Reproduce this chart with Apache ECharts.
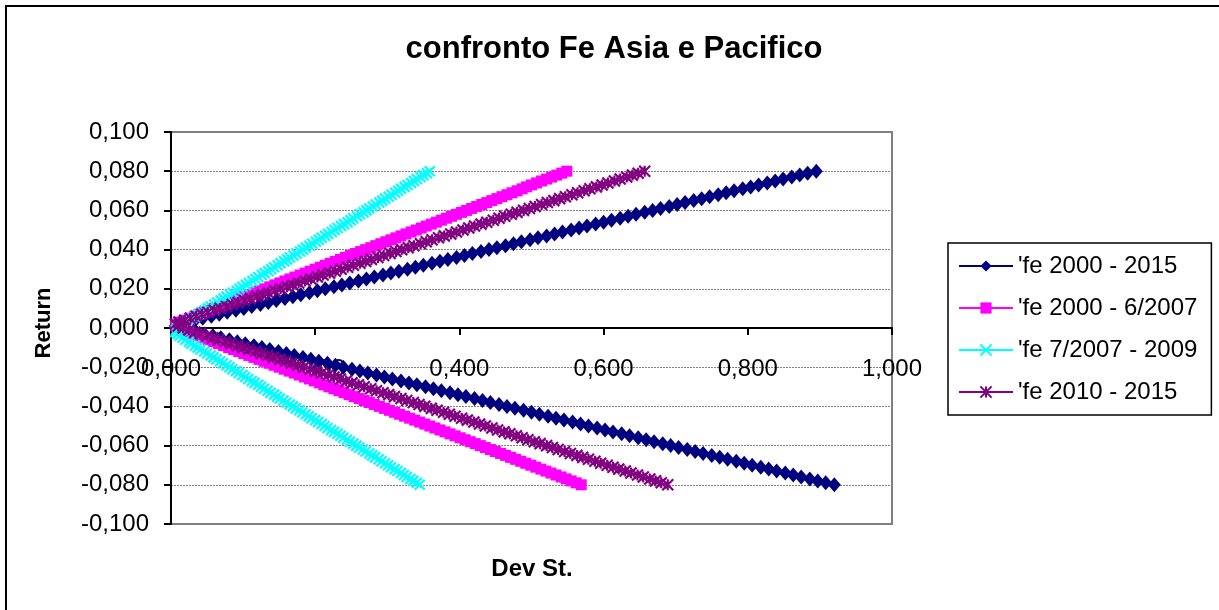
<!DOCTYPE html>
<html>
<head>
<meta charset="utf-8">
<script src="https://cdn.jsdelivr.net/npm/echarts@6/dist/echarts.min.js"></script>
<style>
html,body{margin:0;padding:0;background:#fff;}
#chart{width:1219px;height:610px;}
</style>
</head>
<body>
<div id="chart"></div>
<script>
// Return levels (y values), shared by all series
const returns = [
-0.080,-0.079,-0.078,-0.077,-0.076,-0.075,-0.074,-0.073,-0.072,-0.071,
-0.070,-0.069,-0.068,-0.067,-0.066,-0.065,-0.064,-0.063,-0.062,-0.061,
-0.060,-0.059,-0.058,-0.057,-0.056,-0.055,-0.054,-0.053,-0.052,-0.051,
-0.050,-0.049,-0.048,-0.047,-0.046,-0.045,-0.044,-0.043,-0.042,-0.041,
-0.040,-0.039,-0.038,-0.037,-0.036,-0.035,-0.034,-0.033,-0.032,-0.031,
-0.030,-0.029,-0.028,-0.027,-0.026,-0.025,-0.024,-0.023,-0.022,-0.021,
-0.020,-0.019,-0.018,-0.017,-0.016,-0.015,-0.014,-0.013,-0.012,-0.011,
-0.010,-0.009,-0.008,-0.007,-0.006,-0.005,-0.004,-0.003,-0.002,-0.001,
0.000,
0.001,0.002,0.003,0.004,0.005,0.006,0.007,0.008,0.009,0.010,
0.011,0.012,0.013,0.014,0.015,0.016,0.017,0.018,0.019,0.020,
0.021,0.022,0.023,0.024,0.025,0.026,0.027,0.028,0.029,0.030,
0.031,0.032,0.033,0.034,0.035,0.036,0.037,0.038,0.039,0.040,
0.041,0.042,0.043,0.044,0.045,0.046,0.047,0.048,0.049,0.050,
0.051,0.052,0.053,0.054,0.055,0.056,0.057,0.058,0.059,0.060,
0.061,0.062,0.063,0.064,0.065,0.066,0.067,0.068,0.069,0.070,
0.071,0.072,0.073,0.074,0.075,0.076,0.077,0.078,0.079,0.080
];

// Dev St. (x values) for each series, one per return level
const sdFe2000_2015 = [
0.920,0.908,0.897,0.886,0.874,0.863,0.852,0.840,0.829,0.818,
0.806,0.795,0.784,0.772,0.761,0.750,0.738,0.727,0.716,0.704,
0.693,0.682,0.670,0.659,0.648,0.636,0.625,0.613,0.602,0.591,
0.579,0.568,0.557,0.545,0.534,0.523,0.511,0.500,0.489,0.477,
0.466,0.455,0.443,0.432,0.421,0.409,0.398,0.387,0.375,0.364,
0.353,0.341,0.330,0.319,0.307,0.296,0.285,0.273,0.262,0.251,
0.239,0.228,0.217,0.205,0.194,0.183,0.171,0.160,0.149,0.137,
0.126,0.115,0.103,0.092,0.081,0.069,0.058,0.046,0.035,0.024,
0.014,
0.006,0.012,0.022,0.033,0.044,0.056,0.067,0.078,0.090,0.101,
0.112,0.124,0.135,0.146,0.158,0.169,0.180,0.192,0.203,0.214,
0.226,0.237,0.248,0.260,0.271,0.282,0.294,0.305,0.316,0.328,
0.339,0.350,0.362,0.373,0.384,0.396,0.407,0.418,0.430,0.441,
0.452,0.464,0.475,0.486,0.498,0.509,0.521,0.532,0.543,0.555,
0.566,0.577,0.589,0.600,0.611,0.623,0.634,0.645,0.657,0.668,
0.679,0.691,0.702,0.713,0.725,0.736,0.747,0.759,0.770,0.781,
0.793,0.804,0.815,0.827,0.838,0.849,0.861,0.872,0.883,0.895
];

const sdFe2000_2007 = [
0.569,0.562,0.555,0.548,0.541,0.534,0.527,0.520,0.513,0.506,
0.499,0.492,0.485,0.478,0.471,0.464,0.457,0.450,0.443,0.436,
0.429,0.422,0.415,0.408,0.401,0.394,0.387,0.380,0.373,0.366,
0.359,0.352,0.345,0.338,0.331,0.324,0.317,0.310,0.303,0.296,
0.289,0.282,0.275,0.268,0.261,0.254,0.247,0.240,0.233,0.226,
0.219,0.212,0.206,0.199,0.192,0.185,0.178,0.171,0.164,0.157,
0.150,0.143,0.136,0.129,0.122,0.115,0.108,0.101,0.094,0.087,
0.080,0.073,0.066,0.059,0.052,0.045,0.038,0.031,0.025,0.018,
0.011,
0.007,0.007,0.013,0.019,0.026,0.033,0.039,0.046,0.053,0.060,
0.067,0.074,0.081,0.088,0.095,0.102,0.109,0.116,0.123,0.130,
0.137,0.144,0.151,0.158,0.165,0.172,0.179,0.186,0.193,0.200,
0.207,0.214,0.221,0.228,0.235,0.242,0.249,0.256,0.263,0.270,
0.277,0.284,0.291,0.298,0.305,0.312,0.319,0.326,0.333,0.340,
0.347,0.354,0.361,0.368,0.375,0.382,0.389,0.396,0.403,0.410,
0.417,0.424,0.431,0.438,0.445,0.452,0.459,0.466,0.473,0.480,
0.487,0.493,0.500,0.507,0.514,0.521,0.528,0.535,0.542,0.549
];

const sdFe2007_2009 = [
0.345,0.341,0.336,0.332,0.327,0.323,0.319,0.314,0.310,0.305,
0.301,0.297,0.292,0.288,0.283,0.279,0.275,0.270,0.266,0.261,
0.257,0.253,0.248,0.244,0.239,0.235,0.231,0.226,0.222,0.217,
0.213,0.209,0.204,0.200,0.195,0.191,0.187,0.182,0.178,0.173,
0.169,0.165,0.160,0.156,0.151,0.147,0.143,0.138,0.134,0.129,
0.125,0.121,0.116,0.112,0.107,0.103,0.099,0.094,0.090,0.085,
0.081,0.077,0.072,0.068,0.063,0.059,0.055,0.050,0.046,0.041,
0.037,0.033,0.028,0.025,0.020,0.016,0.012,0.009,0.006,0.007,
0.009,
0.013,0.017,0.021,0.025,0.029,0.033,0.038,0.042,0.047,0.051,
0.055,0.060,0.064,0.069,0.073,0.077,0.082,0.086,0.091,0.095,
0.099,0.104,0.108,0.113,0.117,0.121,0.126,0.130,0.135,0.139,
0.143,0.148,0.152,0.157,0.161,0.165,0.170,0.174,0.179,0.183,
0.187,0.192,0.196,0.201,0.205,0.209,0.214,0.218,0.223,0.227,
0.231,0.236,0.240,0.245,0.249,0.253,0.258,0.262,0.267,0.271,
0.275,0.280,0.284,0.289,0.293,0.297,0.302,0.306,0.311,0.315,
0.319,0.324,0.328,0.333,0.337,0.341,0.346,0.350,0.355,0.359
];

const sdFe2010_2015 = [
0.689,0.680,0.672,0.664,0.655,0.647,0.638,0.630,0.621,0.613,
0.605,0.596,0.588,0.579,0.571,0.563,0.554,0.546,0.537,0.529,
0.521,0.512,0.504,0.495,0.487,0.479,0.470,0.462,0.453,0.445,
0.436,0.428,0.420,0.411,0.403,0.394,0.386,0.378,0.369,0.361,
0.352,0.344,0.336,0.327,0.319,0.310,0.302,0.294,0.285,0.277,
0.268,0.260,0.251,0.243,0.235,0.226,0.218,0.209,0.201,0.193,
0.184,0.176,0.167,0.159,0.151,0.142,0.134,0.125,0.117,0.108,
0.100,0.092,0.083,0.075,0.066,0.058,0.050,0.041,0.033,0.025,
0.017,
0.010,0.006,0.011,0.019,0.027,0.035,0.043,0.051,0.060,0.068,
0.077,0.085,0.093,0.102,0.110,0.119,0.127,0.135,0.144,0.152,
0.161,0.169,0.177,0.186,0.194,0.203,0.211,0.220,0.228,0.236,
0.245,0.253,0.262,0.270,0.278,0.287,0.295,0.304,0.312,0.320,
0.329,0.337,0.346,0.354,0.362,0.371,0.379,0.388,0.396,0.405,
0.413,0.421,0.430,0.438,0.447,0.455,0.463,0.472,0.480,0.489,
0.497,0.505,0.514,0.522,0.531,0.539,0.547,0.556,0.564,0.573,
0.581,0.590,0.598,0.606,0.615,0.623,0.632,0.640,0.648,0.657
];

const seriesNames = ["'fe 2000 - 2015", "'fe 2000 - 6/2007", "'fe 7/2007 - 2009", "'fe 2010 - 2015"];
const xTicks = {min: 0, max: 1, interval: 0.2};
const yTicks = {min: -0.1, max: 0.1, interval: 0.02};

const FONT = "'Liberation Sans', Arial, sans-serif";
const fmt = v => v.toFixed(3).replace('.', ',');
const pairs = sd => sd.map((s, i) => [s, returns[i]]);

const chart = echarts.init(document.getElementById('chart'), null, {renderer: 'canvas'});

const mk = (name, sd, color, symbol, size, stroke) => ({
  name, type: 'line', data: pairs(sd),
  symbol, symbolSize: size,
  showAllSymbol: true,
  lineStyle: {color, width: 2},
  itemStyle: stroke ? {color, borderColor: color, borderWidth: 2.2} : {color, borderWidth: 0},
  emphasis: {disabled: true},
  z: 3
});

const GRID = {left: 171, right: 327, top: 132, bottom: 86};
// distance (px) from the grid bottom up to the zero line
const zeroOffset = -((610 - GRID.top - GRID.bottom) / 2);

chart.setOption({
  animation: false,
  backgroundColor: '#ffffff',
  textStyle: {fontFamily: FONT},
  grid: Object.assign({show: true, borderColor: '#808080', borderWidth: 2, backgroundColor: 'transparent'}, GRID),
  legend: {
    orient: 'vertical', left: 948, top: 243,
    padding: [11, 14, 11, 10],
    itemWidth: 54, itemHeight: 14, itemGap: 18,
    borderColor: '#000', borderWidth: 1.5,
    textStyle: {fontSize: 24, color: '#000', fontFamily: FONT, lineHeight: 24},
    data: seriesNames
  },
  xAxis: {
    type: 'value', min: xTicks.min, max: xTicks.max, interval: xTicks.interval,
    position: 'bottom', offset: zeroOffset,
    axisLine: {onZero: false, lineStyle: {color: '#000', width: 2}},
    axisTick: {show: true, length: 7, lineStyle: {color: '#000', width: 2}},
    axisLabel: {formatter: fmt, fontSize: 24, color: '#000', margin: 29, fontFamily: FONT},
    splitLine: {show: false}
  },
  yAxis: {
    type: 'value', min: yTicks.min, max: yTicks.max, interval: yTicks.interval,
    axisLine: {show: true, onZero: false, lineStyle: {color: '#000', width: 2}},
    axisTick: {show: true, length: 7, lineStyle: {color: '#000', width: 2}},
    axisLabel: {formatter: fmt, fontSize: 24, color: '#000', margin: 22, fontFamily: FONT},
    splitLine: {show: true, lineStyle: {color: '#808080', type: [2, 1], width: 1}}
  },
  graphic: [
    {type: 'rect', shape: {x: 6, y: 6, width: 1240, height: 640}, style: {fill: 'none', stroke: '#000', lineWidth: 2}, silent: true},
    {type: 'text', x: 614, y: 49, style: {text: 'confronto Fe Asia e Pacifico', font: 'bold 31px ' + FONT, fill: '#000', textAlign: 'center', textVerticalAlign: 'middle'}},
    {type: 'text', x: 44, y: 323, rotation: Math.PI / 2, style: {text: 'Return', font: 'bold 22px ' + FONT, fill: '#000', textAlign: 'center', textVerticalAlign: 'middle'}},
    {type: 'text', x: 532, y: 569, style: {text: 'Dev St.', font: 'bold 24px ' + FONT, fill: '#000', textAlign: 'center', textVerticalAlign: 'middle'}}
  ],
  series: [
    mk(seriesNames[0], sdFe2000_2015, '#000080', 'diamond', [13, 15], false),
    mk(seriesNames[1], sdFe2000_2007, '#FF00FF', 'rect', 11, false),
    mk(seriesNames[2], sdFe2007_2009, '#00FFFF', 'path://M0 0L10 10M10 0L0 10', 10, true),
    mk(seriesNames[3], sdFe2010_2015, '#800080', 'path://M0 0L10 10M10 0L0 10M5 0L5 10', 11, true)
  ]
});
</script>
</body>
</html>
